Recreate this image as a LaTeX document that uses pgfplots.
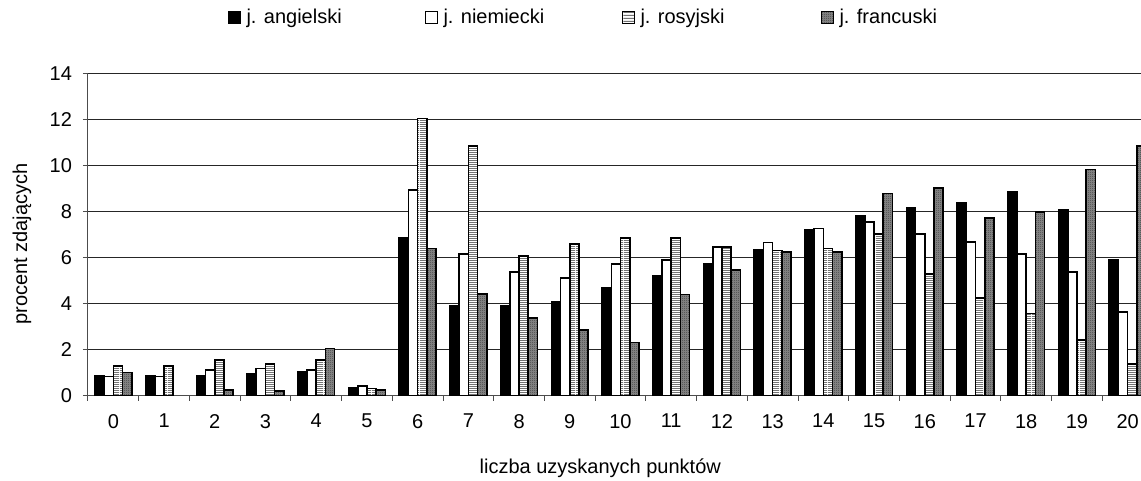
\documentclass[border=0pt]{standalone}
\usepackage{fontspec}
\setmainfont{Liberation Sans}
\usepackage{pgfplots}
\pgfplotsset{compat=1.18}
\usetikzlibrary{patterns}

% fine patterns for the two grey series
\pgfdeclarepatternformonly{finehlines}{\pgfpointorigin}{\pgfqpoint{6pt}{1.2pt}}{\pgfqpoint{6pt}{1.2pt}}{%
  \pgfpathrectangle{\pgfpointorigin}{\pgfqpoint{6pt}{0.6pt}}\pgfusepath{fill}}
\pgfdeclarepatternformonly{finedots}{\pgfpointorigin}{\pgfqpoint{1pt}{1pt}}{\pgfqpoint{1pt}{1pt}}{%
  \pgfpathrectangle{\pgfpointorigin}{\pgfqpoint{0.5pt}{0.5pt}}\pgfusepath{fill}}

\begin{document}
\begin{tikzpicture}
\begin{axis}[
  name=ax,
  scale only axis,
  width=532.5pt, height=161pt,
  font=\fontsize{10}{12}\selectfont,
  /pgf/number format/assume math mode=true,
  ybar=0pt, bar width=4.6pt,
  xmin=-0.5, xmax=20.5, ymin=0, ymax=14,
  xtick={0,...,20},
  minor xtick={-0.5,0.5,...,20.5},
  major x tick style={draw=none},
  ytick={0,2,...,14},
  tick align=outside,
  major tick length=2.5pt, minor tick length=2.5pt,
  tick style={black!70, line width=0.5pt},
  xticklabel style={yshift=-3pt},
  yticklabel style={xshift=-2pt},
  axis x line*=bottom, axis y line*=left,
  axis line style={black!70, line width=0.5pt, -},
  ymajorgrids, grid style={black!85, line width=0.5pt},
  xlabel={liczba uzyskanych punktów},
  ylabel={procent zdających},
  xlabel style={at={(rel axis cs:0.481,-0.242)}, anchor=base},
  ylabel style={at={(rel axis cs:-0.062,0.472)}, anchor=center, rotate=0},
  legend columns=4,
  legend style={draw=none, fill=none, at={(rel axis cs:0.125,1.174)}, anchor=west,
    font=\fontsize{10}{12}\selectfont},
  legend image code/.code={\draw[#1, line width=0.5pt] (0pt,-3pt) rectangle (6pt,3pt);},
  every axis plot/.append style={draw=black, line width=0.8pt},
]
\addplot[fill=black] coordinates {
(0,0.87) (1,0.87) (2,0.87) (3,0.97) (4,1.04) (5,0.36) (6,6.88) (7,3.93) (8,3.93) (9,4.10) (10,4.71)
(11,5.22) (12,5.74) (13,6.35) (14,7.22) (15,7.83) (16,8.19) (17,8.38) (18,8.88) (19,8.10) (20,5.93)};
\addlegendentry{\hspace{1pt}\makebox[87pt][l]{j. angielski}}
\addplot[fill=white] coordinates {
(0,0.84) (1,0.84) (2,1.13) (3,1.20) (4,1.13) (5,0.43) (6,8.96) (7,6.17) (8,5.39) (9,5.12) (10,5.74)
(11,5.90) (12,6.49) (13,6.68) (14,7.28) (15,7.56) (16,7.04) (17,6.70) (18,6.17) (19,5.39) (20,3.65)};
\addlegendentry{\hspace{1pt}\makebox[87pt][l]{j. niemiecki}}
\addplot[fill=white, postaction={pattern=finehlines, pattern color=black!55}] coordinates {
(0,1.30) (1,1.30) (2,1.57) (3,1.38) (4,1.57) (5,0.33) (6,12.07) (7,10.86) (8,6.09) (9,6.61) (10,6.88)
(11,6.86) (12,6.49) (13,6.33) (14,6.41) (15,7.04) (16,5.30) (17,4.26) (18,3.58) (19,2.43) (20,1.39)};
\addlegendentry{\hspace{1pt}\makebox[88pt][l]{j. rosyjski}}
\addplot[fill=black!50, postaction={pattern=finedots, pattern color=black!85}] coordinates {
(0,1.03) (2,0.26) (3,0.23) (4,2.07) (5,0.25) (6,6.42) (7,4.43) (8,3.39) (9,2.87) (10,2.33)
(11,4.42) (12,5.48) (13,6.25) (14,6.25) (15,8.80) (16,9.04) (17,7.75) (18,8.01) (19,9.84) (20,10.88)};
\addlegendentry{\hspace{1pt}j. francuski}
\end{axis}
\pgfresetboundingbox
\path ([shift={(-44pt,-42.5pt)}]ax.south west) rectangle ([shift={(526.5pt,198pt)}]ax.south west);
\end{tikzpicture}
\end{document}
